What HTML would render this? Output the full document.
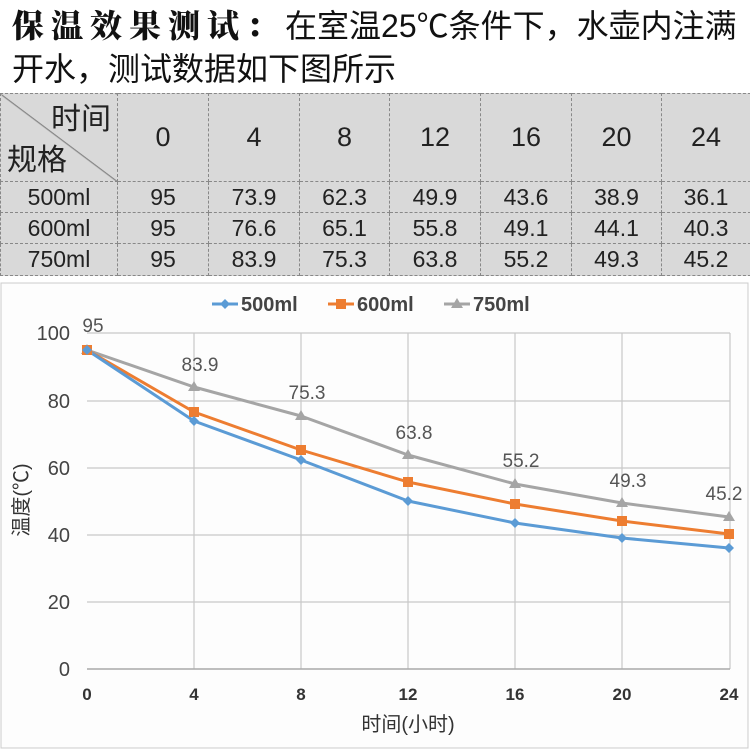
<!DOCTYPE html><html><head><meta charset="utf-8"><style>
body{margin:0;width:750px;height:750px;background:#fff;overflow:hidden;font-family:"Liberation Sans","Noto Sans CJK SC",sans-serif}
.t{position:absolute;left:12px;white-space:nowrap;color:#111;line-height:1}
table{position:absolute;left:0;top:93px;width:750px;border-collapse:collapse;table-layout:fixed;background:#d9d9d9;font-family:"Liberation Sans","Noto Sans CJK SC",sans-serif;color:#222}
td{border:1px dashed #888;text-align:center;font-size:23px;padding:0}
</style></head><body>
<div class="t" style="top:8px;font-size:32px"><span style="font-family:'Noto Serif CJK SC',serif;font-weight:900;letter-spacing:7px">保温效果测试：</span><span>在室温25℃条件下，水壶内注满</span></div>
<div class="t" style="top:53px;font-size:32px">开水，测试数据如下图所示</div>
<table>
<colgroup><col style="width:117px"><col style="width:91px"><col style="width:91px"><col style="width:90px"><col style="width:91px"><col style="width:91px"><col style="width:90px"><col style="width:89px"></colgroup>
<tr style="height:88px"><td style="position:relative;font-family:'Noto Sans CJK SC',sans-serif;font-size:30px;background:linear-gradient(to bottom left,transparent 49.5%,#777 50%,transparent 51%)"><span style="position:absolute;right:6px;top:0">时间</span><span style="position:absolute;left:6px;bottom:2px">规格</span></td><td style="font-size:27px">0</td><td style="font-size:27px">4</td><td style="font-size:27px">8</td><td style="font-size:27px">12</td><td style="font-size:27px">16</td><td style="font-size:27px">20</td><td style="font-size:27px">24</td></tr>
<tr style="height:31px"><td>500ml</td><td>95</td><td>73.9</td><td>62.3</td><td>49.9</td><td>43.6</td><td>38.9</td><td>36.1</td></tr>
<tr style="height:31px"><td>600ml</td><td>95</td><td>76.6</td><td>65.1</td><td>55.8</td><td>49.1</td><td>44.1</td><td>40.3</td></tr>
<tr style="height:32px"><td>750ml</td><td>95</td><td>83.9</td><td>75.3</td><td>63.8</td><td>55.2</td><td>49.3</td><td>45.2</td></tr>
</table>
<svg style="position:absolute;left:0;top:0" width="750" height="750">
<rect x="1" y="283" width="747" height="465" fill="#fdfdfd" stroke="#ccc"/>
<g stroke="#c8c8c8" stroke-width="1.2">
<line x1="87" y1="333" x2="730" y2="333"/><line x1="87" y1="401" x2="730" y2="401"/><line x1="87" y1="468" x2="730" y2="468"/><line x1="87" y1="535" x2="730" y2="535"/><line x1="87" y1="602" x2="730" y2="602"/>
<line x1="194" y1="333" x2="194" y2="669"/><line x1="301" y1="333" x2="301" y2="669"/><line x1="408" y1="333" x2="408" y2="669"/><line x1="515" y1="333" x2="515" y2="669"/><line x1="622" y1="333" x2="622" y2="669"/><line x1="730" y1="333" x2="730" y2="669"/>
</g>
<line x1="87" y1="669" x2="730" y2="669" stroke="#aaa" stroke-width="1.5"/>
<g font-size="20" fill="#444" text-anchor="end"><text x="70" y="340">100</text><text x="70" y="408">80</text><text x="70" y="475">60</text><text x="70" y="542">40</text><text x="70" y="609">20</text><text x="70" y="676">0</text></g>
<g font-size="17" fill="#333" text-anchor="middle" font-weight="bold"><text x="87" y="700">0</text><text x="194" y="700">4</text><text x="301" y="700">8</text><text x="408" y="700">12</text><text x="515" y="700">16</text><text x="622" y="700">20</text><text x="729" y="700">24</text></g>
<text x="408" y="731" font-size="20" fill="#333" text-anchor="middle">时间(小时)</text>
<text transform="translate(28,500) rotate(-90)" font-size="20" fill="#333" text-anchor="middle">温度(℃)</text>
<g fill="none" stroke-width="3" stroke-linejoin="round">
<polyline stroke="#a5a5a5" points="87,350 194,387 301,416 408,455 515,484 622,503 729,517"/>
<polyline stroke="#ed7d31" points="87,350 194,412 301,450 408,482 515,504 622,521 729,534"/>
<polyline stroke="#5b9bd5" points="87,350 194,421 301,460 408,501 515,523 622,538 729,548"/>
</g>
<g fill="#a5a5a5"><path d="M87,344l6,10h-12z"/><path d="M194,381l6,10h-12z"/><path d="M301,410l6,10h-12z"/><path d="M408,449l6,10h-12z"/><path d="M515,478l6,10h-12z"/><path d="M622,497l6,10h-12z"/><path d="M729,511l6,10h-12z"/></g>
<g fill="#ed7d31"><rect x="82" y="345" width="10" height="10"/><rect x="189" y="407" width="10" height="10"/><rect x="296" y="445" width="10" height="10"/><rect x="403" y="477" width="10" height="10"/><rect x="510" y="499" width="10" height="10"/><rect x="617" y="516" width="10" height="10"/><rect x="724" y="529" width="10" height="10"/></g>
<g fill="#5b9bd5"><path d="M87,345l5,5-5,5-5-5z"/><path d="M194,416l5,5-5,5-5-5z"/><path d="M301,455l5,5-5,5-5-5z"/><path d="M408,496l5,5-5,5-5-5z"/><path d="M515,518l5,5-5,5-5-5z"/><path d="M622,533l5,5-5,5-5-5z"/><path d="M729,543l5,5-5,5-5-5z"/></g>
<g font-size="19" fill="#555" text-anchor="middle"><text x="93" y="332">95</text><text x="200" y="371">83.9</text><text x="307" y="399">75.3</text><text x="414" y="439">63.8</text><text x="521" y="467">55.2</text><text x="628" y="487">49.3</text><text x="724" y="500">45.2</text></g>
<g font-size="20" font-weight="bold" fill="#444">
<line x1="212" y1="304" x2="238" y2="304" stroke="#5b9bd5" stroke-width="3"/><path d="M225,299l5,5-5,5-5-5z" fill="#5b9bd5"/><text x="241" y="311">500ml</text>
<line x1="328" y1="304" x2="354" y2="304" stroke="#ed7d31" stroke-width="3"/><rect x="336" y="299" width="10" height="10" fill="#ed7d31"/><text x="357" y="311">600ml</text>
<line x1="444" y1="304" x2="470" y2="304" stroke="#a5a5a5" stroke-width="3"/><path d="M457,298l6,10h-12z" fill="#a5a5a5"/><text x="473" y="311">750ml</text>
</g>
</svg>
</body></html>
